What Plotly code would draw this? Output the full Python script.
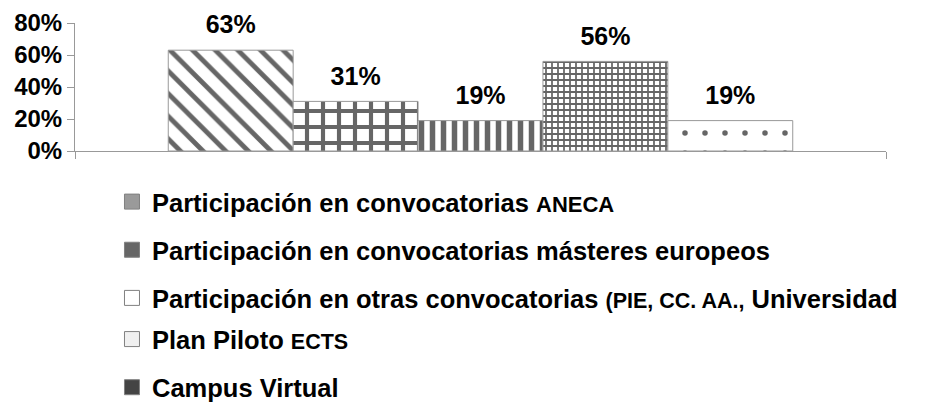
import plotly.graph_objects as go

series = [
    "Participación en convocatorias <span style='font-size:22px'>ANECA</span>",
    "Participación en convocatorias másteres europeos",
    "Participación en otras convocatorias <span style='font-size:21.5px'>(PIE, CC. AA.,</span> Universidad",
    "Plan Piloto <span style='font-size:21.5px'>ECTS</span>",
    "Campus Virtual",
]
values = [0.63, 0.31, 0.19, 0.56, 0.19]
legend_colors = ["#9a9a9a", "#666666", "#ffffff", "#f0f0f0", "#444444"]
legend_ids = ["legend", "legend", "legend", "legend2", "legend2"]
patterns = ["\\", "+", "|", "+", "."]
pattern_sizes = [16, 16, 11, 6, 20]
pattern_solidity = [0.3, 0.45, 0.5, 0.5, 0.06]
tick_vals = [0, 0.2, 0.4, 0.6, 0.8]
tick_text = ["0%", "20%", "40%", "60%", "80%"]

FONT = "Liberation Sans, Arial, sans-serif"
fig = go.Figure()

for i, (name, v) in enumerate(zip(series, values)):
    fig.add_trace(go.Bar(
        x=[0], y=[v], name=name, showlegend=False,
        marker=dict(color="white", line=dict(color="#999999", width=1),
                    pattern=dict(shape=patterns[i], fgcolor="#666666", bgcolor="white",
                                 fgopacity=1, fillmode="replace",
                                 size=pattern_sizes[i], solidity=pattern_solidity[i])),
        text=[f"{round(v*100)}%"], textposition="outside",
        texttemplate="<span style='font-size:25px'>%{text}</span><br> ",
        textfont=dict(size=9, color="black", family=FONT, weight="bold"),
        cliponaxis=False,
    ))

for i, name in enumerate(series):
    fig.add_trace(go.Scatter(
        x=[None], y=[None], mode="markers", name=name, legendgroup=f"g{i}",
        legend=legend_ids[i],
        marker=dict(symbol="square", size=15, color=legend_colors[i],
                    line=dict(color="#808080", width=1)),
    ))

legend_common = dict(x=0.0456, xanchor="left", yanchor="top",
                     traceorder="grouped", tracegroupgap=12,
                     font=dict(size=25.5, family=FONT, color="black", weight="bold"),
                     bgcolor="rgba(0,0,0,0)")

fig.update_layout(
    width=919, height=397,
    margin=dict(l=67, r=41, t=15, b=254, autoexpand=False),
    paper_bgcolor="white", plot_bgcolor="white",
    barmode="group", bargap=0.23, bargroupgap=0,
    font=dict(family=FONT, size=20, color="black", weight="bold"),
    showlegend=True,
    legend=dict(y=-0.215, **legend_common),
    legend2=dict(y=-1.289, **legend_common),
)
fig.update_xaxes(range=[-0.5, 0.5], tickvals=[-0.5, 0.5], ticktext=["", ""],
                 ticks="outside", ticklen=7, tickcolor="#999999",
                 showline=True, linecolor="#999999", linewidth=1,
                 showgrid=False, zeroline=False, fixedrange=True)
fig.update_yaxes(range=[0, 0.8], tickvals=tick_vals, ticktext=tick_text,
                 ticks="outside", ticklen=7, tickcolor="#999999",
                 showline=True, linecolor="#999999", linewidth=1,
                 showgrid=False, zeroline=False,
                 tickfont=dict(size=24, family=FONT, color="black", weight="bold"))

fig.write_html("out.html")
